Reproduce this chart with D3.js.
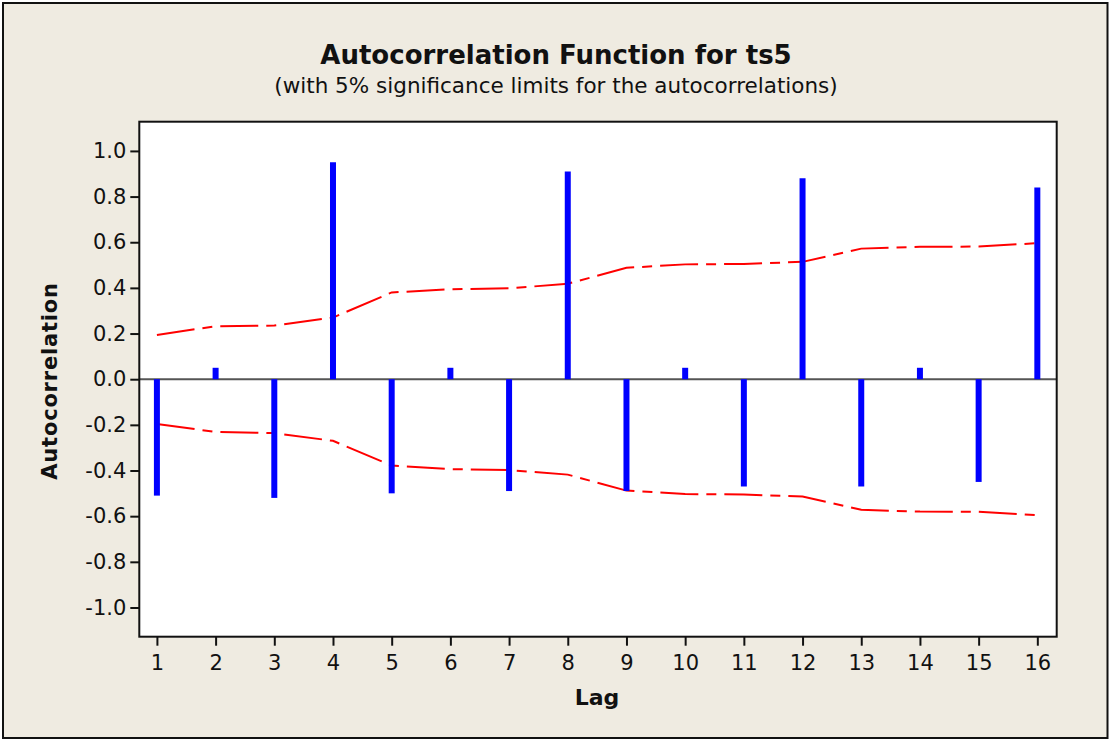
<!DOCTYPE html>
<html>
<head>
<meta charset="utf-8">
<script src="https://cdn.jsdelivr.net/npm/d3@7"></script>
<style>
  html, body { margin: 0; padding: 0; background: #ffffff; }
  svg { display: block; }
</style>
</head>
<body>
<svg id="chart" width="1109" height="740"></svg>
<script>
// ---- data ----
const lags = [1, 2, 3, 4, 5, 6, 7, 8, 9, 10, 11, 12, 13, 14, 15, 16];
const acf = [-0.51, 0.05, -0.52, 0.95, -0.50, 0.05, -0.49, 0.91, -0.49, 0.05, -0.47, 0.88, -0.47, 0.05, -0.45, 0.84];
const upperLimit = [0.194, 0.232, 0.235, 0.270, 0.380, 0.394, 0.398, 0.418, 0.488, 0.503, 0.505, 0.514, 0.572, 0.580, 0.581, 0.596];
const lowerLimit = [-0.196, -0.231, -0.236, -0.270, -0.378, -0.394, -0.398, -0.418, -0.488, -0.503, -0.505, -0.514, -0.572, -0.580, -0.581, -0.596];
const yTickValues = [1.0, 0.8, 0.6, 0.4, 0.2, 0.0, -0.2, -0.4, -0.6, -0.8, -1.0];
const yTickLabels = ["1.0", "0.8", "0.6", "0.4", "0.2", "0.0", "-0.2", "-0.4", "-0.6", "-0.8", "-1.0"];
const xTickLabels = ["1", "2", "3", "4", "5", "6", "7", "8", "9", "10", "11", "12", "13", "14", "15", "16"];
const titleText = "Autocorrelation Function for ts5";
const subtitleText = "(with 5% significance limits for the autocorrelations)";
const xLabel = "Lag";
const yLabel = "Autocorrelation";

// ---- layout ----
const FONT = "'DejaVu Sans', 'Noto Sans', sans-serif";
const plot = { left: 139.3, top: 121.7, right: 1056.7, bottom: 636.7 };

const svg = d3.select("#chart");

// outer frame
svg.append("rect")
  .attr("x", 3).attr("y", 3).attr("width", 1104.5).attr("height", 735)
  .attr("fill", "#EFEBE1").attr("stroke", "#111").attr("stroke-width", 2);

// plot background
svg.append("rect")
  .attr("x", plot.left).attr("y", plot.top)
  .attr("width", plot.right - plot.left).attr("height", plot.bottom - plot.top)
  .attr("fill", "#ffffff");

const x = d3.scaleLinear().domain([0.7, 16.33]).range([plot.left, plot.right]);
const y = d3.scaleLinear().domain([-1.128, 1.128]).range([plot.bottom, plot.top]);

// zero line
svg.append("line")
  .attr("x1", plot.left).attr("x2", plot.right)
  .attr("y1", y(0)).attr("y2", y(0))
  .attr("stroke", "#555").attr("stroke-width", 2);

// significance limits
const lineGen = d3.line().x((d, i) => x(lags[i])).y(d => y(d));
[upperLimit, lowerLimit].forEach(arr => {
  svg.append("path")
    .attr("d", lineGen(arr))
    .attr("fill", "none")
    .attr("stroke", "#FF0000")
    .attr("stroke-width", 2)
    .attr("stroke-dasharray", "38,8,10,8");
});

// bars
svg.append("g").selectAll("line")
  .data(acf)
  .join("line")
  .attr("x1", (d, i) => x(lags[i])).attr("x2", (d, i) => x(lags[i]))
  .attr("y1", y(0)).attr("y2", d => y(d))
  .attr("stroke", "#0000FF").attr("stroke-width", 6);

// plot border
svg.append("rect")
  .attr("x", plot.left).attr("y", plot.top)
  .attr("width", plot.right - plot.left).attr("height", plot.bottom - plot.top)
  .attr("fill", "none").attr("stroke", "#111").attr("stroke-width", 2);

// y axis
const yAxis = d3.axisLeft(y)
  .tickValues(yTickValues)
  .tickFormat((d, i) => yTickLabels[i])
  .tickSize(9).tickPadding(4);
const gy = svg.append("g").attr("transform", `translate(${plot.left},0)`).call(yAxis);
gy.select(".domain").remove();
gy.selectAll(".tick line").attr("stroke", "#111").attr("stroke-width", 2);
gy.selectAll(".tick text").attr("font-family", FONT).attr("font-size", 21).attr("fill", "#111");

// x axis
const xAxis = d3.axisBottom(x)
  .tickValues(lags)
  .tickFormat((d, i) => xTickLabels[i])
  .tickSize(9).tickPadding(9);
const gx = svg.append("g").attr("transform", `translate(0,${plot.bottom})`).call(xAxis);
gx.select(".domain").remove();
gx.selectAll(".tick line").attr("stroke", "#111").attr("stroke-width", 2);
gx.selectAll(".tick text").attr("font-family", FONT).attr("font-size", 21).attr("fill", "#111");

// titles
svg.append("text")
  .attr("x", 556).attr("y", 64)
  .attr("text-anchor", "middle")
  .attr("font-family", FONT).attr("font-weight", "bold").attr("font-size", 26)
  .attr("fill", "#111")
  .text(titleText);

svg.append("text")
  .attr("x", 556).attr("y", 93)
  .attr("text-anchor", "middle")
  .attr("font-family", FONT).attr("font-size", 21.5)
  .attr("fill", "#111")
  .text(subtitleText);

svg.append("text")
  .attr("x", 597).attr("y", 705)
  .attr("text-anchor", "middle")
  .attr("font-family", FONT).attr("font-weight", "bold").attr("font-size", 22)
  .attr("fill", "#111")
  .text(xLabel);

svg.append("text")
  .attr("transform", `translate(57,381) rotate(-90)`)
  .attr("text-anchor", "middle")
  .attr("font-family", FONT).attr("font-weight", "bold").attr("font-size", 21)
  .attr("letter-spacing", 0.8)
  .attr("fill", "#111")
  .text(yLabel);
</script>
</body>
</html>
